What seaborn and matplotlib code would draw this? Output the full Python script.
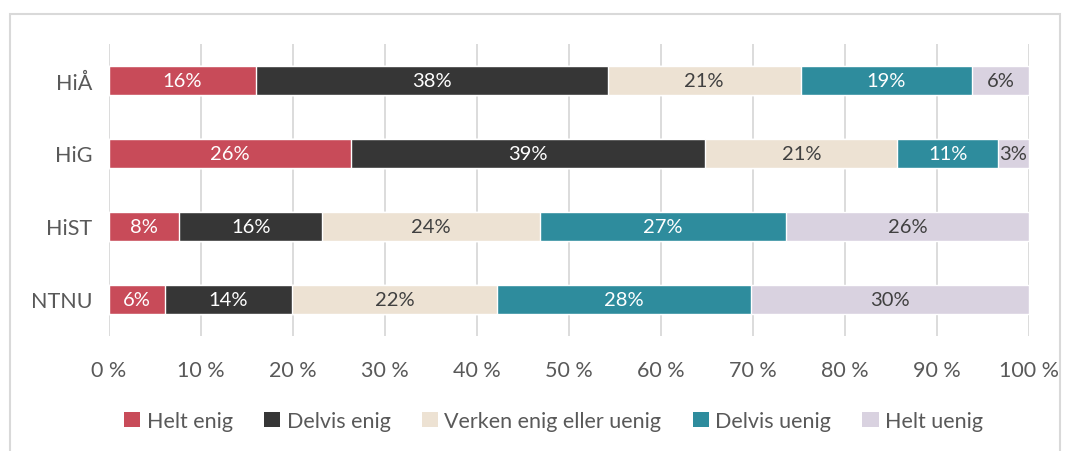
import numpy as np
import pandas as pd
import matplotlib
matplotlib.use('Agg')
import matplotlib.pyplot as plt
import seaborn as sns
from matplotlib.patches import Rectangle, Patch

schools = ['HiÅ', 'HiG', 'HiST', 'NTNU']
answers = ['Helt enig', 'Delvis enig', 'Verken enig eller uenig', 'Delvis uenig', 'Helt uenig']

# share of answers per school (percent)
helt_enig = [16.0, 26.3, 7.6, 6.1]
delvis_enig = [38.2, 38.5, 15.6, 13.8]
verken = [21.0, 20.9, 23.6, 22.3]
delvis_uenig = [18.6, 10.9, 26.8, 27.6]
helt_uenig = [6.2, 3.4, 26.4, 30.2]

# labels as printed on the bars
labels = {
    'Helt enig': ['16%', '26%', '8%', '6%'],
    'Delvis enig': ['38%', '39%', '16%', '14%'],
    'Verken enig eller uenig': ['21%', '21%', '24%', '22%'],
    'Delvis uenig': ['19%', '11%', '27%', '28%'],
    'Helt uenig': ['6%', '3%', '26%', '30%'],
}

colors = ['#C84B59', '#363636', '#EDE2D3', '#2E8C9D', '#D9D2E0']
text_colors = ['white', 'white', '#404040', 'white', '#404040']

sns.set_theme(style='white')
plt.rcParams['font.family'] = ['Lato', 'DejaVu Sans']

df = pd.DataFrame({'school': schools,
                   'Helt enig': helt_enig,
                   'Delvis enig': delvis_enig,
                   'Verken enig eller uenig': verken,
                   'Delvis uenig': delvis_uenig,
                   'Helt uenig': helt_uenig})
cum = df[answers].cumsum(axis=1)
total = cum[answers[-1]].values
cum_pct = cum.div(total, axis=0) * 100

fig = plt.figure(figsize=(10.73, 4.52), dpi=100)
ax = fig.add_axes([109 / 1073, 1 - 337 / 452, 920 / 1073, 292 / 452])

# draw from the full bar down so the shorter stacks sit on top
for i in range(len(answers) - 1, -1, -1):
    sns.barplot(x=cum_pct[answers[i]], y=df['school'], color=colors[i],
                orient='h', width=0.4, ax=ax, saturation=1, zorder=3)

for i, a in enumerate(answers):
    right = cum_pct[a].values
    left = right - df[a].values / total * 100
    for j in range(len(schools)):
        ax.text((left[j] + right[j]) / 2, j, labels[a][j], ha='center', va='center',
                color=text_colors[i], fontsize=14.5, zorder=5)

ax.set_xlim(0, 100)
ax.set_ylim(3.5, -0.5)
ax.set_xticks(np.arange(0, 101, 10))
ax.set_xticklabels([f'{t} %' for t in range(0, 101, 10)])
ax.tick_params(axis='x', labelsize=15.5, colors='#595959', pad=17, length=0)
ax.tick_params(axis='y', labelsize=15.5, colors='#595959', pad=12, length=0)
ax.set_xlabel('')
ax.set_ylabel('')
ax.grid(axis='x', color='#D9D9D9', linewidth=1.3, zorder=0)
ax.set_axisbelow(True)
for s in ax.spines.values():
    s.set_visible(False)

handles = [Patch(facecolor=c, edgecolor='none') for c in colors]
fig.legend(handles, answers, loc='center', bbox_to_anchor=(0.516, 1 - 422 / 452), ncol=5,
           frameon=False, fontsize=15.5, handlelength=0.75, handleheight=0.75,
           handletextpad=0.3, columnspacing=1.45, labelcolor='#595959')

fig.patches.append(Rectangle((10 / 1073, -0.05), 1050 / 1073, 1 - 15 / 452 + 0.05,
                             transform=fig.transFigure, fill=False,
                             edgecolor='#D9D9D9', linewidth=1.5))

fig.savefig('out.png', dpi=100)
